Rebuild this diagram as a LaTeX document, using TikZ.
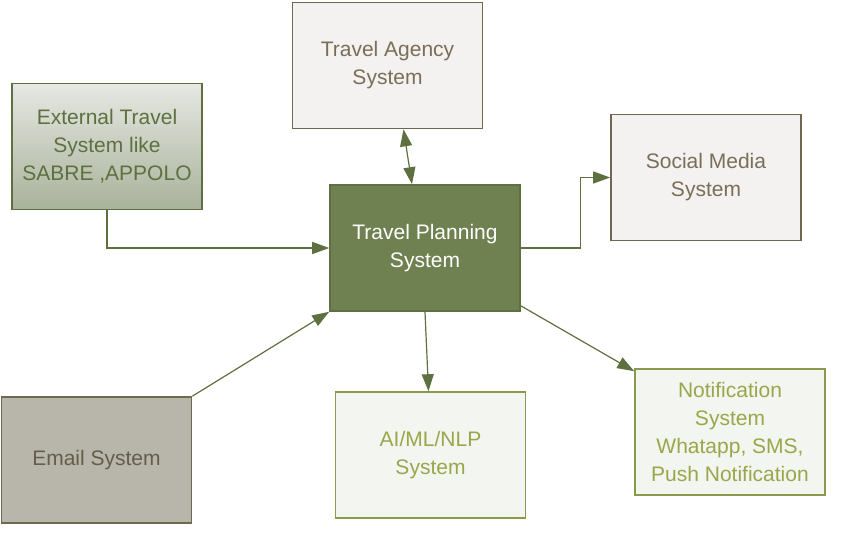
\documentclass[tikz,border=0pt]{standalone}
\usepackage{fontspec}
\setmainfont{Liberation Sans}
\usetikzlibrary{arrows.meta}
\definecolor{olivedark}{HTML}{5E7040}
\definecolor{olivefill}{HTML}{6F8150}
\definecolor{olivelight}{HTML}{8A9A4A}
\definecolor{olivetext}{HTML}{9AA64A}
\definecolor{greyline}{HTML}{6E6852}
\definecolor{greytext}{HTML}{7A6E58}
\definecolor{paper}{HTML}{F3F2F0}
\definecolor{mint}{HTML}{F3F5F0}
\definecolor{stone}{HTML}{B8B5AB}
\definecolor{exttop}{HTML}{E6E8E2}
\definecolor{extbottom}{HTML}{A9B29B}

\begin{document}
\begin{tikzpicture}[x=1pt,y=-1pt,
  every node/.style={rectangle,line width=1.6pt,minimum width=190pt,minimum height=126pt,align=center,
    font=\fontsize{21}{28}\selectfont},
  grey box/.style={draw=greyline,fill=paper,text=greytext},
  light box/.style={draw=olivelight,fill=mint,text=olivetext},
  tip/.tip={Triangle[length=17pt,width=12pt]},
  link/.style={draw=olivedark,line width=1.2pt,-tip}]
\useasboundingbox (0,0) rectangle (855,554);
\node[draw=olivedark,top color=exttop,bottom color=extbottom,text=olivedark] (ext) at (107,146.5) {External Travel\\System like\\SABRE ,APPOLO};
\node[grey box] (agency) at (387.5,65.5) {Travel Agency\\System};
\node[grey box] (social) at (706,177.5) {Social Media\\System};
\node[draw=olivedark,fill=olivefill,text=white] (plan) at (425,248) {Travel Planning\\System};
\node[draw=greyline,fill=stone,text=greyline!90!black] (email) at (96.5,460) {Email System};
\node[light box] (ai) at (430.5,455) {AI/ML/NLP\\System};
\node[light box] (notify) at (730,432) {Notification\\System\\Whatapp, SMS,\\Push Notification};
\draw[link] (ext.south) |- (plan.west);
\draw[link,tip-tip] ([xshift=16pt]agency.south) -- ([xshift=-13pt]plan.north);
\draw[link] (plan.east) -- ++(60,0) |- (social.west);
\draw[link] (email.north east) -- (plan.south west);
\draw[link] (plan.south) -- ([xshift=-2pt]ai.north);
\draw[link] ([yshift=6pt]plan.south east) -- ([yshift=-3pt]notify.north west);
\end{tikzpicture}
\end{document}
